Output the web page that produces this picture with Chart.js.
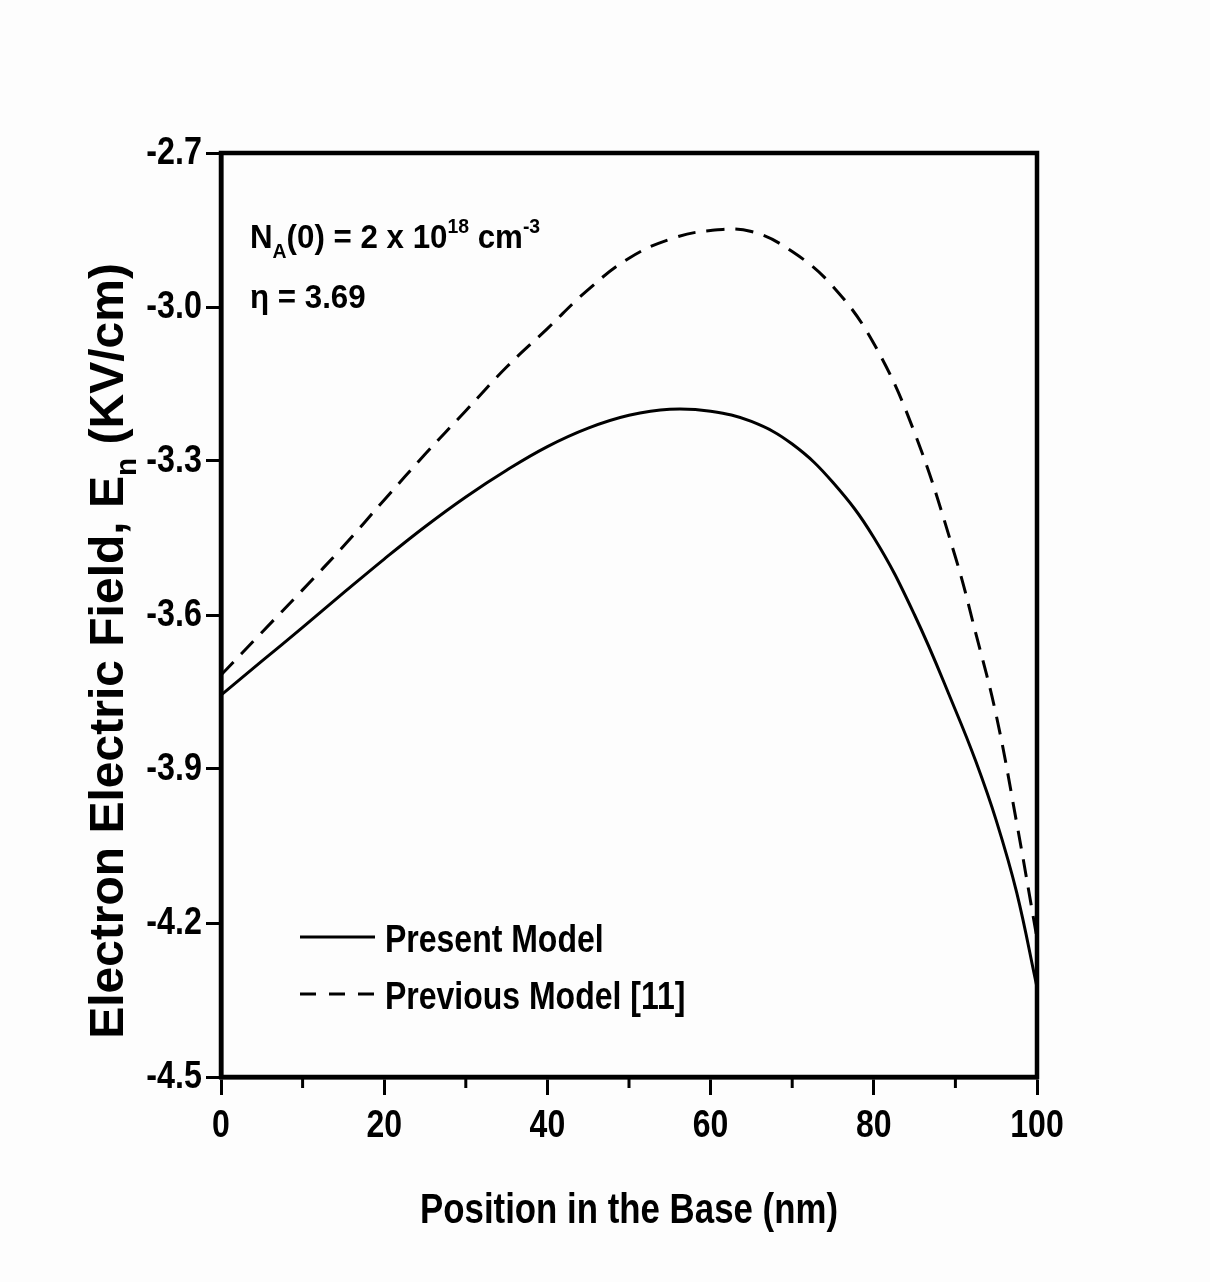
<!DOCTYPE html>
<html>
<head>
<meta charset="utf-8">
<script src="https://cdn.jsdelivr.net/npm/chart.js@4.4.1/dist/chart.umd.min.js"></script>
<style>
  html, body { margin: 0; padding: 0; background: #fdfdfd; }
  #wrap { width: 1210px; height: 1282px; }
</style>
</head>
<body>
<div id="wrap"><canvas id="fieldChart" width="1210" height="1282"></canvas></div>
<script>
/* ===== DATA ===== */
const positionNm = [0, 5, 10, 15, 20, 25, 30, 35, 40, 45, 50, 55, 60, 65, 70, 75, 80, 85, 90, 92.5, 95, 97.5, 100];
const presentModel = [-3.756, -3.690, -3.624, -3.557, -3.491, -3.428, -3.370, -3.318, -3.272, -3.236, -3.211, -3.199,
  -3.203, -3.223, -3.267, -3.342, -3.449, -3.600, -3.785, -3.885, -4.000, -4.140, -4.325];
const previousModel = [-3.717, -3.634, -3.551, -3.466, -3.376, -3.287, -3.202, -3.117, -3.042, -2.966, -2.905, -2.868,
  -2.851, -2.853, -2.892, -2.960, -3.071, -3.245, -3.487, -3.636, -3.795, -4.004, -4.230];
const xTicks = [0, 20, 40, 60, 80, 100];
const xMinorTicks = [10, 30, 50, 70, 90];
const yTicks = [-2.7, -3.0, -3.3, -3.6, -3.9, -4.2, -4.5];

// no narrow face installed, so narrow text is squeezed by hand
const FONT = "'Liberation Sans', Arial, sans-serif";

/* ===== helpers ===== */
// draws runs of text with optional sub/superscript, squeezed by sx
function drawRuns(ctx, runs, x, y, size, sx = 1, align = "left") {
  ctx.save();
  let w = 0;
  runs.forEach(r => {
    ctx.font = `bold ${r.sub || r.sup ? size * 0.62 : size}px ${FONT}`;
    w += ctx.measureText(r.t).width;
  });
  let start = 0;
  if (align === "center") start = -w / 2;
  if (align === "right") start = -w;
  ctx.translate(x, y);
  ctx.scale(sx, 1);
  ctx.textAlign = "left";
  let cx = start;
  runs.forEach(r => {
    ctx.font = `bold ${r.sub || r.sup ? size * 0.62 : size}px ${FONT}`;
    let dy = 0;
    if (r.sub) dy = size * 0.28;
    if (r.sup) dy = -size * 0.45;
    ctx.fillText(r.t, cx, dy);
    cx += ctx.measureText(r.t).width;
  });
  ctx.restore();
}

/* ===== PLUGIN: frame, minor ticks, labels, texts ===== */
const decorPlugin = {
  id: "decor",
  beforeDraw(chart) {
    const { ctx } = chart;
    ctx.save();
    ctx.fillStyle = "#fdfdfd";
    ctx.fillRect(0, 0, chart.width, chart.height);
    ctx.restore();
  },
  afterDraw(chart) {
    const { ctx, chartArea: a, scales } = chart;
    ctx.save();
    ctx.fillStyle = "#000";
    ctx.strokeStyle = "#000";

    // frame
    ctx.lineWidth = 4.5;
    ctx.strokeRect(a.left, a.top, a.right - a.left, a.bottom - a.top);

    // minor x ticks
    ctx.lineWidth = 3;
    xMinorTicks.forEach(v => {
      const px = scales.x.getPixelForValue(v);
      ctx.beginPath();
      ctx.moveTo(px, a.bottom);
      ctx.lineTo(px, a.bottom + 11);
      ctx.stroke();
    });

    ctx.textBaseline = "alphabetic";

    // tick labels
    scales.x.ticks.forEach(t => {
      const px = scales.x.getPixelForValue(t.value);
      drawRuns(ctx, [{ t: String(t.value) }], px, 1137, 39, 0.82, "center");
    });
    ctx.textBaseline = "middle";
    scales.y.ticks.forEach(t => {
      const py = scales.y.getPixelForValue(t.value);
      drawRuns(ctx, [{ t: t.value.toFixed(1) }], 202, py + 1, 38, 0.85, "right");
    });
    ctx.textBaseline = "alphabetic";

    // annotation
    drawRuns(ctx, [
      { t: "N" }, { t: "A", sub: true }, { t: "(0) = 2 x 10" }, { t: "18", sup: true },
      { t: " cm" }, { t: "-3", sup: true }
    ], 250, 248, 34, 0.92);
    drawRuns(ctx, [{ t: "\u03b7 = 3.69" }], 250, 308, 34, 0.92);

    // legend
    ctx.lineWidth = 3;
    ctx.beginPath();
    ctx.moveTo(300, 937);
    ctx.lineTo(375, 937);
    ctx.stroke();
    ctx.setLineDash([16, 13]);
    ctx.beginPath();
    ctx.moveTo(300, 994);
    ctx.lineTo(375, 994);
    ctx.stroke();
    ctx.setLineDash([]);
    drawRuns(ctx, [{ t: "Present Model" }], 385, 952, 39, 0.82);
    drawRuns(ctx, [{ t: "Previous Model [11]" }], 385, 1009, 39, 0.82);

    // x title
    drawRuns(ctx, [{ t: "Position in the Base (nm)" }], (a.left + a.right) / 2, 1223, 43, 0.81, "center");

    // y title (rotated)
    ctx.translate(123, 651);
    ctx.rotate(-Math.PI / 2);
    drawRuns(ctx, [{ t: "Electron Electric Field, E" }, { t: "n", sub: true }, { t: " (KV/cm)" }], 0, 0, 48, 1, "center");
    ctx.restore();
  }
};

/* ===== CHART ===== */
const ctx = document.getElementById("fieldChart");
new Chart(ctx, {
  type: "line",
  data: {
    datasets: [
      {
        label: "Present Model",
        data: positionNm.map((x, i) => ({ x, y: presentModel[i] })),
        borderColor: "#000",
        borderWidth: 3,
        pointRadius: 0,
        tension: 0.4,
        fill: false,
      },
      {
        label: "Previous Model [11]",
        data: positionNm.map((x, i) => ({ x, y: previousModel[i] })),
        borderColor: "#000",
        borderWidth: 3,
        borderDash: [18, 11],
        pointRadius: 0,
        tension: 0.4,
        fill: false,
      },
    ],
  },
  options: {
    responsive: false,
    animation: false,
    layout: { padding: { left: 0, top: 153, right: 173, bottom: 0 } },
    plugins: { legend: { display: false }, tooltip: { enabled: false } },
    scales: {
      x: {
        type: "linear",
        min: 0,
        max: 100,
        afterFit: s => { s.height = 205; },
        afterBuildTicks: s => { s.ticks = xTicks.map(v => ({ value: v })); },
        ticks: { display: false },
        grid: { drawOnChartArea: false, drawTicks: true, tickLength: 18, tickWidth: 3, tickColor: "#000" },
        border: { display: true, color: "#000", width: 4.5 },
      },
      y: {
        type: "linear",
        min: -4.5,
        max: -2.7,
        afterFit: s => { s.width = 221; },
        afterBuildTicks: s => { s.ticks = yTicks.map(v => ({ value: v })); },
        ticks: { display: false },
        grid: { drawOnChartArea: false, drawTicks: true, tickLength: 15, tickWidth: 3, tickColor: "#000" },
        border: { display: true, color: "#000", width: 4.5 },
      },
    },
  },
  plugins: [decorPlugin],
});
</script>
</body>
</html>
